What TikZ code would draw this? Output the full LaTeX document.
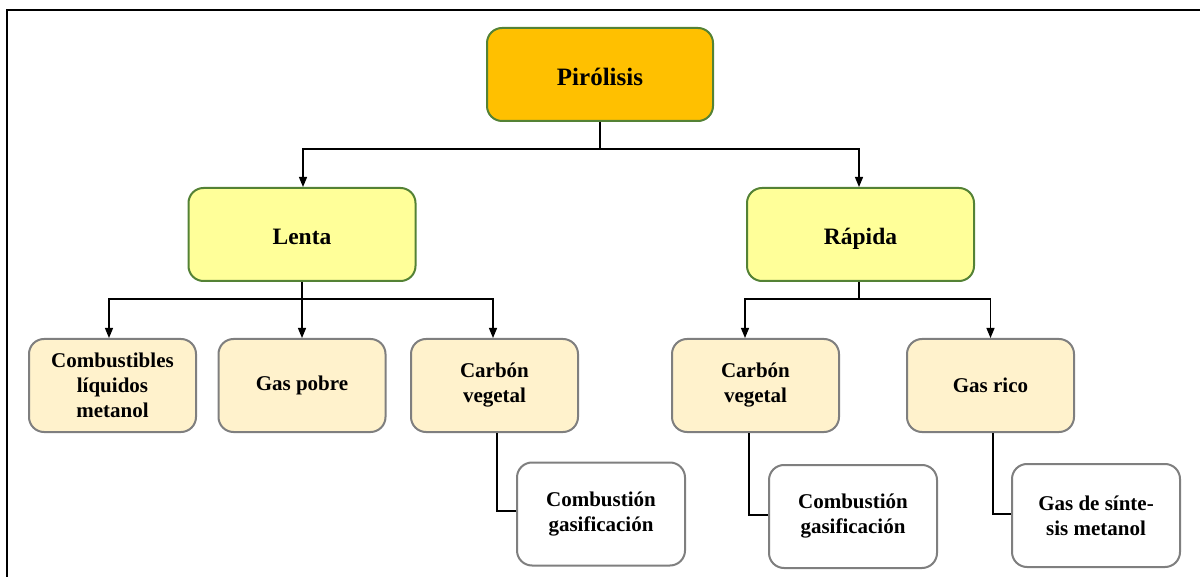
\documentclass[tikz,border=0pt]{standalone}
\usepackage{fontspec}
\setmainfont{LiberationSerif}[Extension=.ttf, UprightFont=*-Regular, BoldFont=*-Bold, ItalicFont=*-Italic, BoldItalicFont=*-BoldItalic]
\usetikzlibrary{arrows.meta}
\definecolor{gold}{HTML}{FFC000}
\definecolor{lightyel}{HTML}{FFFF99}
\definecolor{cream}{HTML}{FFF2CC}
\definecolor{grn}{HTML}{548235}
\definecolor{gry}{HTML}{7F7F7F}
\tikzset{
  box/.style={rectangle, rounded corners=15pt, line width=2pt, align=center,
    font=\rmfamily\bfseries\fontsize{21}{25}\selectfont, inner sep=2pt},
  topbox/.style={box, draw=grn, fill=gold, minimum width=226pt, minimum height=93pt,
    font=\rmfamily\bfseries\fontsize{25}{28}\selectfont, text height=23pt, text depth=0pt},
  midbox/.style={box, draw=grn, fill=lightyel, minimum width=227pt, minimum height=93pt,
    font=\rmfamily\bfseries\fontsize{23.5}{27}\selectfont, text height=21pt, text depth=0pt},
  leafbox/.style={box, draw=gry, fill=cream, minimum width=167pt, minimum height=93pt},
  subbox/.style={box, draw=gry, fill=white, minimum width=168pt, minimum height=103pt},
  conn/.style={line width=1.2pt, draw=black},
  arr/.style={conn, -{Triangle[length=10pt,width=8pt]}},
  frame/.style={line width=2pt, draw=black}
}
\begin{document}
\begin{tikzpicture}[x=1pt,y=-1pt]
\useasboundingbox (0,0) rectangle (1200,577);
% frame (top and left edges)
\coordinate (fa) at (7,577);
\coordinate (fb) at (7,10);
\coordinate (fc) at (1201,10);
\draw[frame] (fa) -- (fb) -- (fc);

\node[topbox] (pir) at (600,74.5) {Pirólisis};
\node[midbox] (len) at (302,234.5) {Lenta};
\node[midbox] (rap) at (860.5,234.5) {Rápida};

\node[leafbox] (comb) at (112.5,385.5) {Combustibles\\líquidos\\metanol};
\node[leafbox] (gasp) at (302,385.5) {Gas pobre};
\node[leafbox] (carl) at (494.5,385.5) {Carbón\\vegetal};
\node[leafbox] (carr) at (755.5,385.5) {Carbón\\vegetal};
\node[leafbox] (gasr) at (990.5,385.5) {Gas rico};

\node[subbox] (cgl) at (601,514) {Combustión\\gasificación};
\node[subbox] (cgr) at (853,516.5) {Combustión\\gasificación};
\node[subbox] (gsm) at (1096,515.5) {Gas de sínte-\\sis metanol};

% level 1 -> 2
\draw[conn] (pir.south) -- ++(0,27) coordinate (p1);
\draw[arr] (p1) -| ([xshift=1pt]len.north);
\draw[arr] (p1) -| ([xshift=-1.5pt]rap.north);

% Lenta -> leaves
\draw[conn] (len.south) -- ++(0,17) coordinate (l1);
\draw[arr] (l1) -| ([xshift=-3.5pt]comb.north);
\draw[arr] (l1) -| (gasp.north);
\draw[arr] (l1) -| ([xshift=-1.5pt]carl.north);

% Rápida -> leaves
\draw[conn] ([xshift=-1.5pt]rap.south) -- ++(0,17) coordinate (r1);
\draw[arr] (r1) -| ([xshift=-10.5pt]carr.north);
\draw[arr] (r1) -| (gasr.north);

% leaves -> sub boxes
\draw[conn] ([xshift=2.5pt]carl.south) |- ([yshift=3pt]cgl.west);
\draw[conn] ([xshift=-6.5pt]carr.south) |- ([yshift=1.5pt]cgr.west);
\draw[conn] ([xshift=2.5pt]gasr.south) |- ([yshift=1.5pt]gsm.west);
\end{tikzpicture}
\end{document}
